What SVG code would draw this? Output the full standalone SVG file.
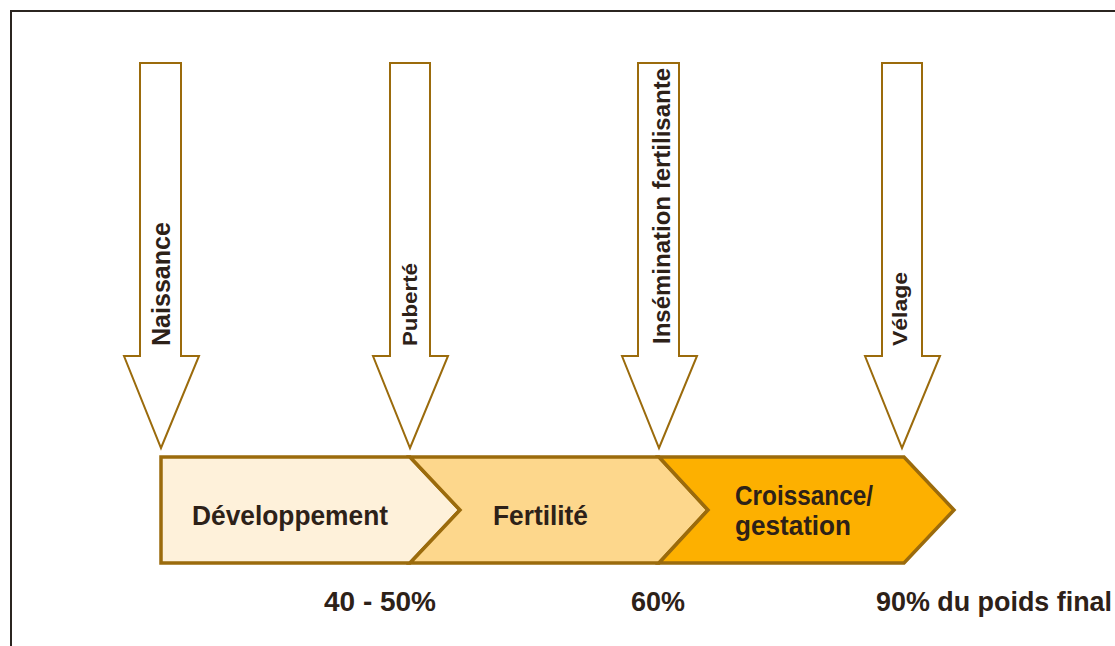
<svg xmlns="http://www.w3.org/2000/svg" width="1115" height="646" viewBox="0 0 1115 646">
  <style>
    .frame { fill: none; stroke: #2b2520; stroke-width: 2; }
    .arrow { fill: #ffffff; stroke: #9b6b0c; stroke-width: 2; stroke-linejoin: miter; }
    .stage { stroke: #9b6b0c; stroke-width: 3.5; stroke-linejoin: miter; }
    .lbl { font-family: "Liberation Sans", Arial, sans-serif; font-weight: bold; fill: #2d2118; }
  </style>
  <rect x="0" y="0" width="1115" height="646" fill="#ffffff"/>
  <path class="frame" d="M11,646 V11 H1115"/>

  <!-- stage chevrons -->
  <g id="stage-developpement">
    <path class="stage" fill="#fef1da" d="M161,457 L410,457 L460,510 L410,563 L161,563 Z"/>
    <text class="lbl" x="192" y="525" font-size="28" textLength="196" lengthAdjust="spacingAndGlyphs">Développement</text>
  </g>
  <g id="stage-fertilite">
    <path class="stage" fill="#fdd78c" d="M410,457 L659,457 L708,510 L659,563 L410,563 L460,510 Z"/>
    <text class="lbl" x="493" y="525" font-size="28" textLength="95" lengthAdjust="spacingAndGlyphs">Fertilité</text>
  </g>
  <g id="stage-croissance">
    <path class="stage" fill="#fdb000" d="M659,457 L904,457 L954,510 L904,563 L659,563 L708,510 Z"/>
    <text class="lbl" x="735" y="505" font-size="28" textLength="138" lengthAdjust="spacingAndGlyphs">Croissance/</text>
    <text class="lbl" x="735" y="535" font-size="28" textLength="116" lengthAdjust="spacingAndGlyphs">gestation</text>
  </g>

  <!-- event arrows -->
  <g id="event-naissance">
    <path class="arrow" d="M140,63 H181 V356 H199 L161,448 L124,356 H140 Z"/>
    <text class="lbl" transform="translate(170,346) rotate(-90)" font-size="25" textLength="124" lengthAdjust="spacingAndGlyphs">Naissance</text>
  </g>
  <g id="event-puberte">
    <path class="arrow" d="M390,63 H430 V356 H448 L410,448 L373,356 H390 Z"/>
    <text class="lbl" transform="translate(417,346) rotate(-90)" font-size="21" textLength="83" lengthAdjust="spacingAndGlyphs">Puberté</text>
  </g>
  <g id="event-insemination">
    <path class="arrow" d="M638,63 H679 V356 H697 L659,448 L622,356 H638 Z"/>
    <text class="lbl" transform="translate(670,344) rotate(-90)" font-size="24" textLength="276" lengthAdjust="spacingAndGlyphs">Insémination fertilisante</text>
  </g>
  <g id="event-velage">
    <path class="arrow" d="M882,63 H922 V356 H940 L902,448 L865,356 H882 Z"/>
    <text class="lbl" transform="translate(907,346) rotate(-90)" font-size="21" textLength="74" lengthAdjust="spacingAndGlyphs">Vélage</text>
  </g>

  <!-- weight milestones -->
  <g id="milestones">
    <text class="lbl" x="324" y="611" font-size="27" textLength="112" lengthAdjust="spacingAndGlyphs">40 - 50%</text>
    <text class="lbl" x="631" y="611" font-size="27" textLength="54" lengthAdjust="spacingAndGlyphs">60%</text>
    <text class="lbl" x="876" y="611" font-size="27" textLength="236" lengthAdjust="spacingAndGlyphs">90% du poids final</text>
  </g>
</svg>
